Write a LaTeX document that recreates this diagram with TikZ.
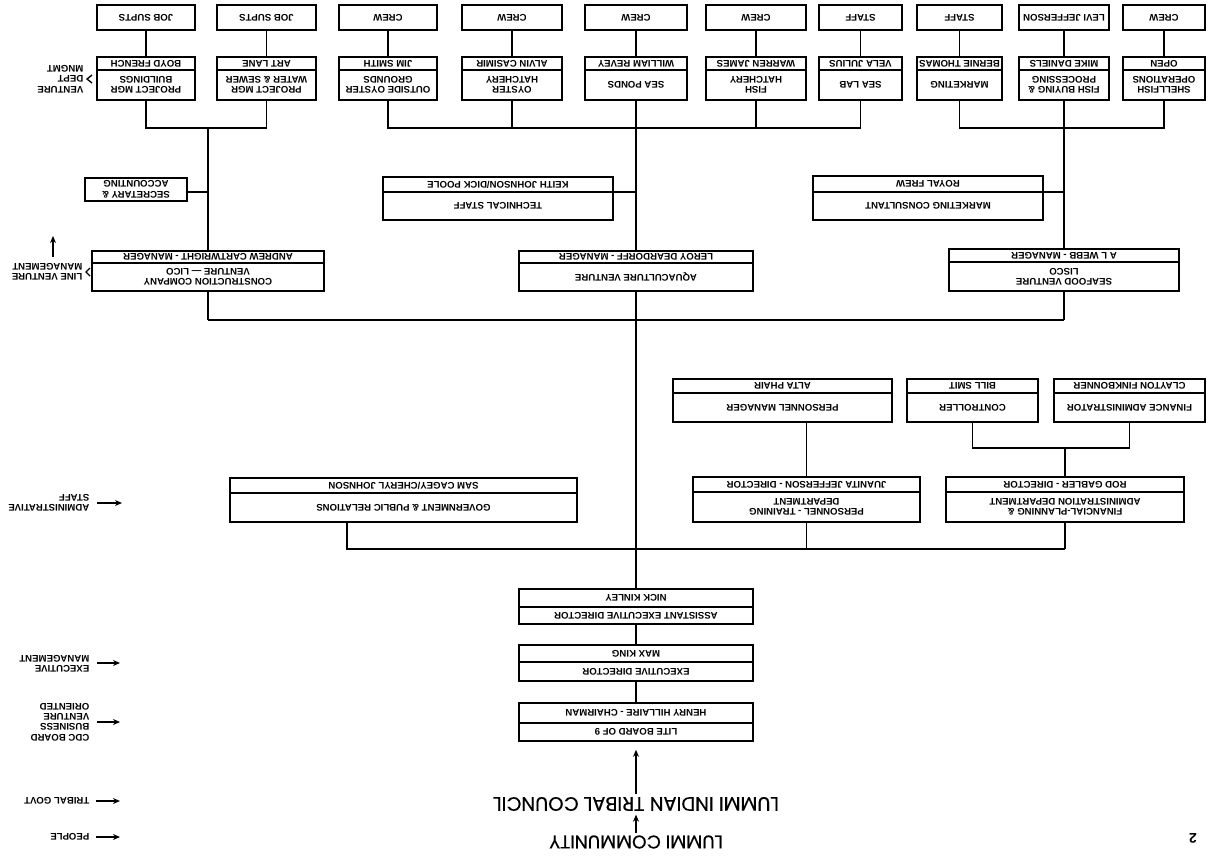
\documentclass[tikz,border=0pt]{standalone}
\usepackage{fontspec}
\setmainfont{Liberation Sans}
\newfontfamily\cfont{Poppins}[FakeBold=0.5]
\usetikzlibrary{arrows.meta,calc}
\newcommand{\lbl}{\fontsize{9.6}{10.4}\selectfont\bfseries}
% #1 name, #2 x1, #3 x2, #4 ytop, #5 ydiv, #6 ybot, #7 title, #8 person
\newcommand{\TwoBox}[8]{%
  \pgfmathsetmacro\cx{(#2+#3)/2}%
  \pgfmathsetmacro\cy{(#4+#6)/2}%
  \pgfmathsetmacro\bw{#3-#2}%
  \pgfmathsetmacro\bh{#6-#4}%
  \pgfmathsetmacro\py{(#4+#5)/2}%
  \pgfmathsetmacro\ty{(#5+#6)/2}%
  \node[box, minimum width=\bw pt, minimum height=\bh pt] (#1) at (\cx,\cy) {};
  \draw[divider] (#2,#5) -- (#3,#5);
  \node[txt] (#1p) at (\cx,\py) {#8};
  \node[txt] (#1t) at (\cx,\ty) {#7};
}
% #1 name, #2 x1, #3 x2, #4 ytop, #5 ybot, #6 text
\newcommand{\OneBox}[6]{%
  \pgfmathsetmacro\cx{(#2+#3)/2}%
  \pgfmathsetmacro\cy{(#4+#5)/2}%
  \pgfmathsetmacro\bw{#3-#2}%
  \pgfmathsetmacro\bh{#5-#4}%
  \node[box, txtin, minimum width=\bw pt, minimum height=\bh pt] (#1) at (\cx,\cy) {#6};
}
\begin{document}
\begin{tikzpicture}[x=1pt,y=-1pt,line width=1.4pt,
  box/.style={draw, rotate=180, inner sep=0pt, fill=white, line width=1.6pt},
  txtin/.style={font=\lbl, align=center},
  divider/.style={line width=1.1pt},
  txt/.style={rotate=180, font=\lbl, align=center, inner sep=0.5pt},
  side/.style={rotate=180, font=\lbl, align=left, anchor=west, inner sep=0pt},
  conn/.style={line width=1.4pt},
  arr/.style={-{Stealth[length=7pt,width=6pt]}, line width=1.4pt},
]
\useasboundingbox[fill=white] (0,0) rectangle (1213,857);

% ---------- top row ----------
\OneBox{j1}{97}{195}{5}{30}{JOB SUPTS}
\OneBox{j2}{217}{316}{5}{30}{JOB SUPTS}
\OneBox{j3}{339}{437}{5}{30}{CREW}
\OneBox{j4}{462}{562}{5}{30}{CREW}
\OneBox{j5}{585}{687}{5}{30}{CREW}
\OneBox{j6}{706}{806}{5}{30}{CREW}
\OneBox{j7}{819}{902}{5}{30}{STAFF}
\OneBox{j8}{917}{1002}{5}{30}{STAFF}
\OneBox{j9}{1019}{1109}{5}{30}{LEVI JEFFERSON}
\OneBox{j10}{1123}{1205}{5}{30}{CREW}

% ---------- department row ----------
\TwoBox{d1}{97}{195}{57}{70}{100}{PROJECT MGR\\BUILDINGS}{BOYD FRENCH}
\TwoBox{d2}{217}{316}{57}{70}{100}{PROJECT MGR\\WATER \& SEWER}{ART LANE}
\TwoBox{d3}{339}{437}{57}{70}{100}{OUTSIDE OYSTER\\GROUNDS}{JIM SMITH}
\TwoBox{d4}{462}{562}{57}{70}{100}{OYSTER\\HATCHERY}{ALVIN CASIMIR}
\TwoBox{d5}{585}{687}{57}{70}{100}{SEA PONDS}{WILLIAM REVEY}
\TwoBox{d6}{706}{806}{57}{70}{100}{FISH\\HATCHERY}{WARREN JAMES}
\TwoBox{d7}{819}{902}{57}{70}{100}{SEA LAB}{VELA JULIUS}
\TwoBox{d8}{917}{1002}{57}{70}{100}{MARKETING}{BERNIE THOMAS}
\TwoBox{d9}{1019}{1109}{57}{70}{100}{FISH BUYING \&\\PROCESSING}{MIKE DANIELS}
\TwoBox{d10}{1123}{1205}{57}{70}{100}{SHELLFISH\\OPERATIONS}{OPEN}

% ---------- ventures ----------
\OneBox{sec}{85}{187}{178}{201}{SECRETARY \&\\ACCOUNTING}
\TwoBox{tech}{383}{613}{177}{192}{220}{TECHNICAL STAFF}{KEITH JOHNSON/DICK POOLE}
\TwoBox{mc}{813}{1043}{176}{192}{220}{MARKETING CONSULTANT}{ROYAL FREW}
\TwoBox{cons}{92}{324}{251}{263}{291}{CONSTRUCTION COMPANY\\VENTURE --- LICO}{ANDREW CARTWRIGHT - MANAGER}
\TwoBox{aq}{519}{753}{251}{263}{291}{AQUACULTURE VENTURE}{LEROY DEARDORFF - MANAGER}
\TwoBox{sf}{949}{1179}{249}{262}{291}{SEAFOOD VENTURE\\LISCO}{A L WEBB - MANAGER}

% ---------- administrative staff ----------
\TwoBox{pm}{673}{892}{379}{393}{422}{PERSONNEL MANAGER}{ALTA PHAIR}
\TwoBox{ctl}{907}{1038}{379}{393}{422}{CONTROLLER}{BILL SMIT}
\TwoBox{fa}{1054}{1205}{379}{393}{422}{FINANCE ADMINISTRATOR}{CLAYTON FINKBONNER}
\TwoBox{gov}{230}{577}{478}{493}{522}{GOVERNMENT \& PUBLIC RELATIONS}{SAM CAGEY/CHERYL JOHNSON}
\TwoBox{pt}{693}{920}{477}{492}{522}{PERSONNEL - TRAINING\\DEPARTMENT}{JUANITA JEFFERSON - DIRECTOR}
\TwoBox{fp}{946}{1184}{477}{492}{522}{FINANCIAL-PLANNING \&\\ADMINISTRATION DEPARTMENT}{ROD GABLER - DIRECTOR}

% ---------- executive ----------
\TwoBox{asst}{519}{753}{589}{607}{624}{ASSISTANT EXECUTIVE DIRECTOR}{NICK KINLEY}
\TwoBox{ed}{519}{753}{645}{662}{681}{EXECUTIVE DIRECTOR}{MAX KING}
\TwoBox{lite}{519}{753}{703}{723}{741}{LITE BOARD OF 9}{HENRY HILLAIRE - CHAIRMAN}

\node[rotate=180, font=\cfont\fontsize{19.5}{19.5}\selectfont, inner sep=1pt] (council) at (636,804) {LUMMI INDIAN TRIBAL COUNCIL};
\node[rotate=180, font=\cfont\fontsize{18.5}{18.5}\selectfont, inner sep=1pt] (comm) at (636,842) {LUMMI COMMUNITY};
\node[rotate=180, font=\bfseries\fontsize{14}{14}\selectfont, inner sep=0pt] (pg) at (1193,838) {2};

% ---------- coordinates ----------
\coordinate (lb) at (208,128);
\coordinate (mb) at (636,128);
\coordinate (rb) at (1064,128);
\coordinate (secJ) at (208,192);
\coordinate (techJ) at (636,192);
\coordinate (mcJ) at (1064,192);
\coordinate (vL) at (208,320);
\coordinate (vR) at (1064,320);
\coordinate (sG) at (347,549);
\coordinate (sR) at (1065,549);
\coordinate (cb) at (1065,448);

% ---------- connectors ----------
\foreach \i in {1,...,10} { \draw[conn] (j\i) -- (d\i); }
\draw[conn] (d1) |- (lb) -| (d2);
\draw[conn] (lb) -- (cons);
\draw[conn] (cons) -- (vL);
\draw[conn] (sec.west |- secJ) -- (secJ);
\draw[conn] (d3) |- (mb) -| (d7);
\draw[conn] (d4) -- (d4 |- mb);
\draw[conn] (d6) -- (d6 |- mb);
\draw[conn] (d5) -- (aq);
\draw[conn] (tech.west |- techJ) -- (techJ);
\draw[conn] (d8) |- (rb) -| (d10);
\draw[conn] (d9) -- (sf);
\draw[conn] (mc.west |- mcJ) -- (mcJ);
\draw[conn] (sf) -- (vR);
\draw[conn] (vL) -- (vR);
\draw[conn] (aq) -- (asst);
\draw[conn] (gov.north -| sG) -- (sG) -- (sR);
\draw[conn] (fp) -- (sR);
\draw[conn] (pt) -- (pt |- sG);
\draw[conn] (pm.north -| pt.south) -- (pt.south);
\draw[conn] (ctl) |- (cb);
\draw[conn] (fa) |- (cb);
\draw[conn] (fp) -- (cb);
\draw[conn] (asst) -- (ed);
\draw[conn] (ed) -- (lite);
\draw[arr, shorten >=8pt, shorten <=1pt] (council) -- (lite);
\draw[arr, shorten >=2pt, shorten <=1pt] (comm) -- (council);

% ---------- side labels ----------
\node[side] (lvd) at (84,79) {VENTURE\\DEPT\\MNGMT};
\draw[line width=1.4pt] (92,75) -- (87,79) -- (92,83);
\node[side] (llv) at (83,272) {LINE VENTURE\\MANAGEMENT};
\draw[line width=1.4pt] (90,268) -- (86,272) -- (90,276);
\coordinate (lvTip) at (53,236);
\draw[arr] ([yshift=6pt]llv.south -| lvTip) -- (lvTip);
\node[side] (las) at (90,503) {ADMINISTRATIVE\\STAFF};
\coordinate (asTip) at (122,503);
\draw[arr] ([xshift=7pt]las.west) -- (asTip);
\node[side] (lem) at (90,664) {EXECUTIVE\\MANAGEMENT};
\coordinate (emTip) at (120,663);
\draw[arr] ([xshift=7pt]lem.west |- emTip) -- (emTip);
\node[side] (lcdc) at (90,722) {CDC BOARD\\BUSINESS\\VENTURE\\ORIENTED};
\coordinate (cdcTip) at (120,722);
\draw[arr] ([xshift=7pt]lcdc.west |- cdcTip) -- (cdcTip);
\node[side] (ltg) at (90,801) {TRIBAL GOVT};
\coordinate (tgTip) at (120,801);
\draw[arr] ([xshift=6pt]ltg.west |- tgTip) -- (tgTip);
\node[side] (lpe) at (90,837) {PEOPLE};
\coordinate (peTip) at (120,837);
\draw[arr] ([xshift=6pt]lpe.west |- peTip) -- (peTip);
\end{tikzpicture}
\end{document}
